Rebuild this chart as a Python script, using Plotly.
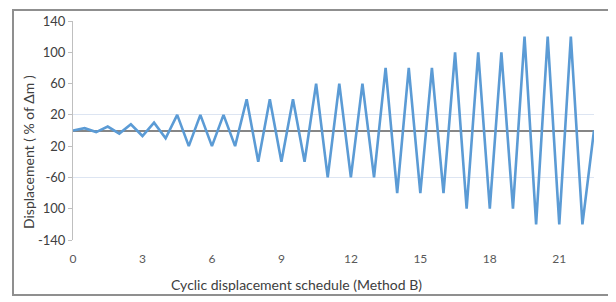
import plotly.graph_objects as go

# Data
x_steps = [i * 0.5 for i in range(46)]  # 0 .. 22.5 in half-cycle steps
displacement = [0, 3, -2, 5, -4, 8, -7, 10, -10,
                20, -20, 20, -20, 20, -20,
                40, -40, 40, -40, 40, -40,
                60, -60, 60, -60, 60, -60,
                80, -80, 80, -80, 80, -80,
                100, -100, 100, -100, 100, -100,
                120, -120, 120, -120, 120, -120,
                0]
x_tick_vals = [0, 3, 6, 9, 12, 15, 18, 21]
y_tick_vals = [140, 100, 60, 20, -20, -60, -100, -140]
y_tick_text = ["140", "100", "60", "20", "20", "-60", "100", "-140"]
grid_vals = [140, 20, -60, -140]

# page body has an 8px margin; target screen coords of plot area
OFF = 8
SX0, SX1, SY0, SY1 = 73, 594, 21, 240
W, H = 616 - OFF, 302 - OFF
L, R, T, B = SX0 - OFF, 616 - SX1, SY0 - OFF, 302 - SY1
pw, ph = SX1 - SX0, SY1 - SY0

def px(xs):
    return (xs - SX0) / pw

def py(ys):
    return (SY1 - ys) / ph

fig = go.Figure()
fig.add_trace(go.Scatter(x=x_steps, y=displacement, mode="lines",
                         line=dict(color="#5b9bd5", width=2.6),
                         showlegend=False, hoverinfo="skip"))
fig.add_trace(go.Scatter(x=[None], y=[None], yaxis="y2", showlegend=False,
                         hoverinfo="skip"))

font_family = "Lato, Open Sans, sans-serif"

fig.update_layout(
    width=W, height=H, autosize=False,
    margin=dict(l=L, r=R, t=T, b=B, pad=0),
    paper_bgcolor="white", plot_bgcolor="white",
    font=dict(family=font_family, color="#404040"),
    xaxis=dict(range=[0, 22.5], tickvals=x_tick_vals, showgrid=False,
               showline=False, zeroline=False, ticks="",
               tickfont=dict(size=12, color="#595959"),
               ticklabelstandoff=10, fixedrange=True, automargin=False),
    yaxis=dict(range=[-140, 140], tickvals=y_tick_vals, ticktext=y_tick_text,
               showgrid=False, showline=True, linecolor="#bfbfbf", linewidth=1,
               ticks="outside", ticklen=4, tickcolor="#bfbfbf",
               zeroline=True, zerolinecolor="#868686", zerolinewidth=1.5,
               tickfont=dict(size=13, color="#404040"), fixedrange=True,
               automargin=False),
    yaxis2=dict(range=[-140, 140], overlaying="y", side="left",
                tickvals=grid_vals, showticklabels=False, showgrid=True,
                gridcolor="#dde5f2", gridwidth=1.2, ticks="",
                showline=False, zeroline=False, fixedrange=True,
                automargin=False),
    shapes=[dict(type="rect", xref="paper", yref="paper",
                 x0=px(13), x1=px(612), y0=py(295), y1=py(10),
                 line=dict(color="#8f8f8f", width=2), layer="above")],
    annotations=[
        dict(text="Displacement ( % of Δm )", xref="paper", yref="paper",
             x=px(28), y=py(152), textangle=-90, showarrow=False,
             xanchor="center", yanchor="middle",
             font=dict(size=14, color="#404040")),
        dict(text="Cyclic displacement schedule (Method B)", xref="paper",
             yref="paper", x=px(296), y=py(284), showarrow=False,
             xanchor="center", yanchor="middle",
             font=dict(size=14, color="#404040")),
    ],
)

fig.write_html("out.html")
